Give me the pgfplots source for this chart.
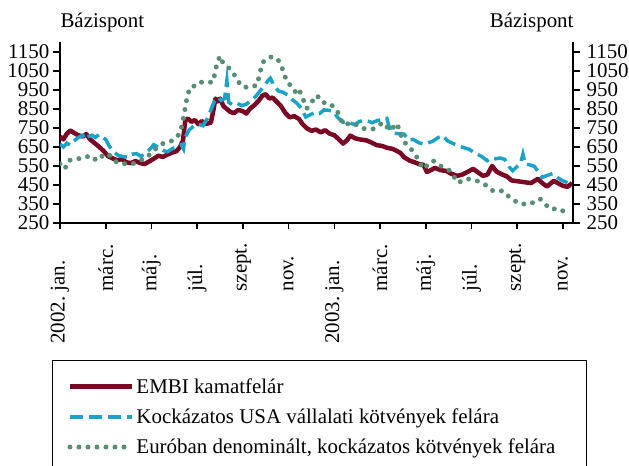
\documentclass[border=0pt]{standalone}
\usepackage{fontspec}
\setmainfont{Liberation Serif}
\usepackage{pgfplots}
\pgfplotsset{compat=1.18}
\definecolor{embi}{RGB}{122,8,36}
\definecolor{usa}{RGB}{26,163,199}
\definecolor{euro}{RGB}{88,142,114}

\pgfplotstableread{
m v
0.00 705
0.15 690
0.30 720
0.45 737
0.60 725
0.80 712
1.00 705
1.15 718
1.30 692
1.50 672
1.70 652
1.90 630
2.10 602
2.30 590
2.50 580
2.70 586
2.90 570
3.10 565
3.30 576
3.50 566
3.70 560
3.90 574
4.10 588
4.30 604
4.50 598
4.70 610
4.90 620
5.10 628
5.25 650
5.38 684
5.48 790
5.60 800
5.75 782
5.90 792
6.05 770
6.20 786
6.40 772
6.60 778
6.72 850
6.80 905
6.90 890
7.00 905
7.15 865
7.30 850
7.45 835
7.60 828
7.80 845
8.00 838
8.15 826
8.30 850
8.50 870
8.70 895
8.85 920
9.00 928
9.15 905
9.30 910
9.50 885
9.65 868
9.85 830
10.05 806
10.25 812
10.45 798
10.60 772
10.80 748
11.00 735
11.20 742
11.40 727
11.60 738
11.80 720
12.00 712
12.20 690
12.38 668
12.55 685
12.70 710
12.90 696
13.10 690
13.40 685
13.60 675
13.85 660
14.10 655
14.30 646
14.55 640
14.75 628
14.90 618
15.05 596
15.30 578
15.50 570
15.70 560
15.90 556
16.05 518
16.25 530
16.40 540
16.65 528
16.90 524
17.10 510
17.37 498
17.60 505
17.85 520
18.07 535
18.30 515
18.50 498
18.70 505
18.90 550
19.10 520
19.35 505
19.55 495
19.75 474
20.00 470
20.30 465
20.60 460
20.90 482
21.10 460
21.30 442
21.60 472
21.85 455
22.00 446
22.20 440
22.40 460
}\embi

\pgfplotstableread{
m v
0.00 665
0.15 650
0.30 670
0.45 660
0.60 680
0.80 700
1.00 712
1.10 690
1.25 705
1.40 712
1.55 700
1.70 715
1.85 700
2.00 690
2.15 655
2.35 625
2.55 605
2.75 600
2.95 596
3.15 612
3.35 615
3.55 600
3.75 622
3.95 640
4.10 662
4.30 650
4.50 632
4.70 625
4.90 640
5.10 652
5.30 662
5.40 640
5.47 700
5.65 740
5.85 760
6.05 770
6.25 762
6.45 800
6.60 845
6.75 890
6.90 912
7.05 895
7.20 905
7.30 1000
7.38 885
7.55 872
7.75 880
7.95 868
8.15 875
8.35 895
8.55 915
8.75 945
8.95 975
9.10 1000
9.20 1012
9.35 975
9.55 945
9.75 938
9.95 925
10.15 900
10.35 882
10.55 855
10.75 808
10.95 820
11.15 832
11.35 826
11.55 845
11.75 843
11.95 838
12.15 805
12.38 780
12.55 785
12.70 776
12.90 768
13.10 785
13.40 790
13.65 778
13.90 790
14.10 792
14.30 800
14.45 735
14.60 722
14.85 720
15.05 718
15.25 686
15.45 690
15.70 672
15.90 665
16.10 672
16.30 680
16.55 700
16.75 710
16.95 682
17.20 668
17.45 655
17.70 645
17.90 638
18.10 622
18.25 612
18.45 600
18.68 578
18.85 592
19.05 588
19.25 592
19.45 585
19.65 545
19.80 525
20.00 548
20.15 565
20.25 612
20.35 560
20.55 556
20.75 548
20.95 515
21.10 490
21.30 500
21.55 510
21.75 490
21.95 475
22.20 462
}\usa

\pgfplotstableread{
m v
0.00 562
0.22 535
0.35 578
0.74 589
1.00 589
1.31 605
1.62 578
1.97 615
2.19 605
2.49 568
2.76 562
3.19 562
3.50 578
3.80 594
4.07 631
4.50 668
4.94 684
5.25 721
5.38 790
5.56 912
5.69 965
5.99 975
6.12 991
6.43 991
6.69 991
6.87 1092
7.00 1129
7.13 1092
7.35 1070
7.57 1044
7.74 1002
8.00 965
8.31 965
8.62 975
8.75 1044
8.88 1097
9.19 1124
9.49 1118
9.62 1092
9.75 1055
9.93 990
10.19 965
10.37 922
10.50 940
10.80 853
11.07 896
11.24 922
11.46 885
11.80 880
12.12 843
12.38 768
12.82 777
13.25 747
13.69 745
14.13 779
14.44 737
14.74 774
15.00 684
15.31 647
15.62 594
15.88 535
16.32 578
16.62 552
17.06 525
17.41 462
17.80 483
18.24 472
18.68 446
18.94 419
19.38 419
19.69 382
20.12 350
20.56 350
21.00 377
21.43 324
21.87 324
22.18 298
}\euro

\begin{document}
\begin{tikzpicture}
\begin{axis}[name=ax, scale only axis, width=513bp, height=180.5bp,
  xmin=0, xmax=22.44, ymin=250, ymax=1200,
  axis x line*=bottom, axis y line*=left,
  axis line style={line width=1.6bp, -},
  every tick/.style={line width=1.6bp, black},
  tick align=outside, major tick length=6.5bp,
  xtick pos=left, ytick pos=left, ticklabel pos=left,
  xtick={0,2,...,22},
  xticklabels={\llap{2002.\ }jan., márc., máj., júl., szept., nov., \llap{2003.\ }jan., márc., máj., júl., szept., nov.},
  ytick={250,350,...,1150},
  font=\fontsize{21}{25}\selectfont,
  /pgf/number format/assume math mode=true,
  /pgf/number format/1000 sep={},
  yticklabel style={inner sep=0pt, anchor=east, font=\fontsize{21}{24}\selectfont},
  yticklabel shift=4bp,
  xticklabel style={rotate=90, anchor=west, inner sep=0pt, font=\fontsize{21}{25}\selectfont},
  xticklabel shift=62bp,
  legend image code/.code={\draw[#1] (0bp,0bp) -- (62bp,0bp);},
  legend cell align=left,
  legend style={at={(0,0)}, anchor=north west, xshift=-8bp, yshift=-137bp,
    draw=black, line width=1bp, inner xsep=15bp, inner ysep=16bp,
    font=\fontsize{21}{25}\selectfont, row sep=10bp,
    /tikz/every even column/.append style={column sep=19bp}},
]
\addplot[embi, line width=4.5bp, line join=round] table[x=m,y=v] {\embi};
\addlegendentry{EMBI kamatfelár}
\addplot[usa, line width=3.5bp, dash pattern=on 13bp off 6bp] table[x=m,y=v] {\usa};
\addlegendentry{Kockázatos USA vállalati kötvények felára}
\addplot[euro, line width=5bp, line cap=round, dash pattern=on 0bp off 9bp] table[x=m,y=v] {\euro};
\addlegendentry{Euróban denominált, kockázatos kötvények felára\hspace*{14bp}}
\end{axis}
\begin{axis}[scale only axis, width=513bp, height=180.5bp,
  xmin=0, xmax=22.44, ymin=250, ymax=1200,
  axis x line=none, axis y line*=right,
  axis line style={line width=1.6bp, -},
  every tick/.style={line width=1.6bp, black},
  tick align=outside, major tick length=6.5bp,
  xtick=\empty, ytick pos=right, yticklabel pos=right,
  ytick={250,350,...,1150},
  /pgf/number format/assume math mode=true,
  /pgf/number format/1000 sep={},
  yticklabel style={inner sep=0pt, anchor=west, font=\fontsize{21}{24}\selectfont},
  yticklabel shift=7bp,
]
\end{axis}
\node[anchor=base west, font=\fontsize{21}{25}\selectfont] at ([xshift=-3bp,yshift=14.5bp]ax.north west) {Bázispont};
\node[anchor=base east, font=\fontsize{21}{25}\selectfont] at ([xshift=4bp,yshift=14.5bp]ax.north east) {Bázispont};
\pgfresetboundingbox
\path[use as bounding box] ([xshift=-60bp,yshift=-243bp]ax.south west) rectangle ([xshift=56bp,yshift=42.5bp]ax.north east);
\end{tikzpicture}
\end{document}
